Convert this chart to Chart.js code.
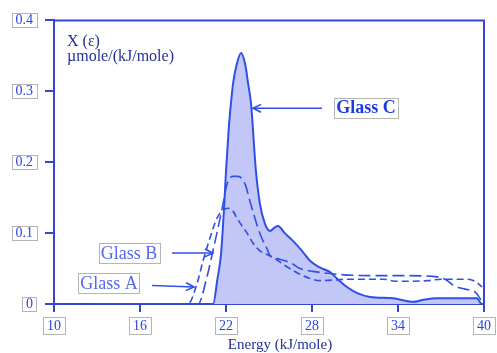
<!DOCTYPE html>
<html>
<head>
<meta charset="utf-8">
<script src="https://cdn.jsdelivr.net/npm/chart.js@4.4.1/dist/chart.umd.min.js"></script>
<style>
  body { margin: 0; background: #fff; }
  #wrap { width: 497px; height: 353px; position: relative; }
</style>
</head>
<body>
<div id="wrap"><canvas id="energyChart"></canvas></div>
<script>
// Glass C (filled curve)
const energyC = [12.6, 21.1, 21.4, 21.65, 21.86, 22.0, 22.2, 22.35, 22.5, 22.75, 23.05, 23.35, 23.55, 23.74, 24.09, 24.37, 24.72, 25.07, 25.4, 25.63, 26.1, 26.67, 27.3, 27.86, 28.5, 29.26, 29.9, 30.44, 31.2, 32.05, 33.65, 35.05, 35.8, 36.72, 39.5, 39.8];
const valueC = [0, 0, 0.035, 0.07, 0.134, 0.187, 0.25, 0.284, 0.312, 0.338, 0.354, 0.337, 0.31, 0.284, 0.187, 0.141, 0.113, 0.103, 0.108, 0.11, 0.1, 0.089, 0.075, 0.061, 0.052, 0.045, 0.033, 0.024, 0.015, 0.01, 0.008, 0.003, 0.006, 0.008, 0.008, 0];

// Glass A
const energyA = [12.6, 19.35, 19.98, 20.4, 20.88, 21.37, 21.72, 22.14, 22.49, 22.77, 23.12, 23.47, 23.88, 24.37, 24.72, 25.28, 25.98, 27.16, 27.86, 28.56, 30.65, 32.95, 33.93, 36.09, 37.07, 38.88, 39.37, 39.86];
const valueA = [0, 0, 0.029, 0.061, 0.093, 0.121, 0.131, 0.135, 0.131, 0.121, 0.11, 0.1, 0.086, 0.075, 0.071, 0.066, 0.056, 0.042, 0.036, 0.033, 0.035, 0.035, 0.032, 0.033, 0.035, 0.035, 0.032, 0.024];

// Glass B
const energyB = [12.6, 20.05, 20.67, 21.09, 21.44, 21.79, 22.07, 22.49, 22.84, 23.33, 23.67, 24.02, 24.23, 24.58, 24.86, 25.07, 25.56, 26.12, 26.6, 27.16, 28.07, 29.74, 31.84, 33.93, 36.37, 37.28, 37.98, 38.68, 39.37, 39.79];
const valueB = [0, 0, 0.038, 0.075, 0.107, 0.141, 0.169, 0.18, 0.18, 0.169, 0.145, 0.121, 0.107, 0.089, 0.078, 0.068, 0.064, 0.061, 0.057, 0.05, 0.046, 0.042, 0.04, 0.04, 0.039, 0.035, 0.025, 0.021, 0.017, 0.006];

const xRange = [10, 40];
const yRange = [0, 0.4];

const axisBlue = '#3447d4';
const lineBlue = '#2f4fe6';
const tickBlue = '#2a44e0';
const titleBlue = '#24319a';
const serif = '"Liberation Serif", "DejaVu Serif", serif';

const toPoints = (xs, ys) => xs.map((x, i) => ({ x: x, y: ys[i] }));

// callouts: label centre, arrow tail and arrow tip, all in data units
const callouts = [
  { text: 'Glass C', bold: true, color: '#1d3ae8', at: [31.77, 0.277], tail: [28.7, 0.276], tip: [23.88, 0.276] },
  { text: 'Glass B', bold: false, color: '#5468f0', at: [15.23, 0.072], tail: [18.23, 0.072], tip: [21.09, 0.072] },
  { text: 'Glass A', bold: false, color: '#5468f0', at: [13.84, 0.029], tail: [16.84, 0.026], tip: [19.77, 0.024] }
];

const decorations = {
  id: 'decorations',
  afterDraw(chart) {
    const { ctx, chartArea: a, scales: { x, y } } = chart;
    ctx.save();

    // frame top and right
    ctx.strokeStyle = axisBlue;
    ctx.lineWidth = 2;
    ctx.beginPath();
    ctx.moveTo(a.left, a.top);
    ctx.lineTo(a.right, a.top);
    ctx.lineTo(a.right, a.bottom);
    ctx.stroke();

    // boxes round the tick labels
    ctx.font = '14px ' + serif;
    ctx.strokeStyle = '#b4b4b4';
    ctx.lineWidth = 1;
    y.ticks.forEach((t, i) => {
      const label = String(y.getLabelForValue(t.value) === '' ? t.label : t.label);
      const w = ctx.measureText(label).width;
      const right = y.right - 9 - 12;
      const cy = y.getPixelForTick(i);
      ctx.strokeRect(Math.round(right - w - 4) + 0.5, Math.round(cy - 7) + 0.5, Math.round(w + 7), 14);
    });
    x.ticks.forEach((t, i) => {
      const w = ctx.measureText(t.label).width;
      const cx = x.getPixelForTick(i);
      ctx.strokeRect(Math.round(cx - w / 2 - 4) + 0.5, 317.5, Math.round(w + 8), 17);
    });

    // axis titles
    ctx.fillStyle = titleBlue;
    ctx.textAlign = 'left';
    ctx.textBaseline = 'alphabetic';
    ctx.font = '16px ' + serif;
    ctx.fillText('X (ε)', a.left + 13, a.top + 26);
    ctx.fillText('µmole/(kJ/mole)', a.left + 13, a.top + 41);
    ctx.font = '15px ' + serif;
    ctx.textAlign = 'center';
    ctx.fillText('Energy (kJ/mole)', (a.left + a.right) / 2 + 11, a.bottom + 45);

    // callouts
    callouts.forEach(c => {
      const tx = x.getPixelForValue(c.tip[0]), ty = y.getPixelForValue(c.tip[1]);
      const sx = x.getPixelForValue(c.tail[0]), sy = y.getPixelForValue(c.tail[1]);
      ctx.strokeStyle = lineBlue;
      ctx.lineWidth = 1.6;
      ctx.beginPath();
      ctx.moveTo(sx, sy);
      ctx.lineTo(tx, ty);
      ctx.stroke();
      const ang = Math.atan2(ty - sy, tx - sx);
      ctx.beginPath();
      ctx.moveTo(tx - 9 * Math.cos(ang - 0.45), ty - 9 * Math.sin(ang - 0.45));
      ctx.lineTo(tx, ty);
      ctx.lineTo(tx - 9 * Math.cos(ang + 0.45), ty - 9 * Math.sin(ang + 0.45));
      ctx.stroke();

      const cx = x.getPixelForValue(c.at[0]), cy = y.getPixelForValue(c.at[1]);
      ctx.font = (c.bold ? 'bold ' : '') + '18px ' + serif;
      const w = ctx.measureText(c.text).width;
      ctx.fillStyle = '#fff';
      ctx.fillRect(cx - w / 2 - 2, cy - 10, w + 4, 20);
      ctx.strokeStyle = '#b4b4b4';
      ctx.lineWidth = 1;
      ctx.strokeRect(Math.round(cx - w / 2 - 2) + 0.5, Math.round(cy - 10) + 0.5, Math.round(w + 4), 20);
      ctx.fillStyle = c.color;
      ctx.textAlign = 'center';
      ctx.textBaseline = 'middle';
      ctx.fillText(c.text, cx, cy + 1);
    });
    ctx.restore();
  }
};

const ctx = document.getElementById('energyChart').getContext('2d');
const energyChart = new Chart(ctx, {
  type: 'line',
  data: {
    datasets: [
      {
        label: 'Glass C',
        data: toPoints(energyC, valueC),
        borderColor: lineBlue,
        backgroundColor: '#c3c7f7',
        borderWidth: 2,
        fill: 'origin',
        cubicInterpolationMode: 'monotone',
        pointRadius: 0,
        order: 3
      },
      {
        label: 'Glass A',
        data: toPoints(energyA, valueA),
        borderColor: lineBlue,
        borderWidth: 1.6,
        borderDash: [7, 4],
        fill: false,
        cubicInterpolationMode: 'monotone',
        pointRadius: 0,
        order: 1
      },
      {
        label: 'Glass B',
        data: toPoints(energyB, valueB),
        borderColor: lineBlue,
        borderWidth: 1.6,
        borderDash: [12, 5],
        fill: false,
        cubicInterpolationMode: 'monotone',
        pointRadius: 0,
        order: 2
      }
    ]
  },
  options: {
    responsive: true,
    maintainAspectRatio: false,
    animation: false,
    layout: { padding: { top: 16, right: 13, left: 0, bottom: 0 } },
    scales: {
      x: {
        type: 'linear',
        min: xRange[0],
        max: xRange[1],
        afterFit: (scale) => { scale.height = 49; },
        ticks: { stepSize: 6, color: tickBlue, padding: 6, font: { family: serif, size: 14 } },
        grid: { drawOnChartArea: false, drawTicks: true, tickLength: 8, color: axisBlue, lineWidth: 2 },
        border: { color: axisBlue, width: 2 }
      },
      y: {
        min: yRange[0],
        max: yRange[1],
        afterFit: (scale) => { scale.width = 54; },
        ticks: { stepSize: 0.1, color: tickBlue, padding: 12, font: { family: serif, size: 14 } },
        grid: { drawOnChartArea: false, drawTicks: true, tickLength: 9, color: axisBlue, lineWidth: 2 },
        border: { color: axisBlue, width: 2 }
      }
    },
    plugins: {
      legend: { display: false },
      tooltip: { enabled: false }
    }
  },
  plugins: [decorations]
});
</script>
</body>
</html>
